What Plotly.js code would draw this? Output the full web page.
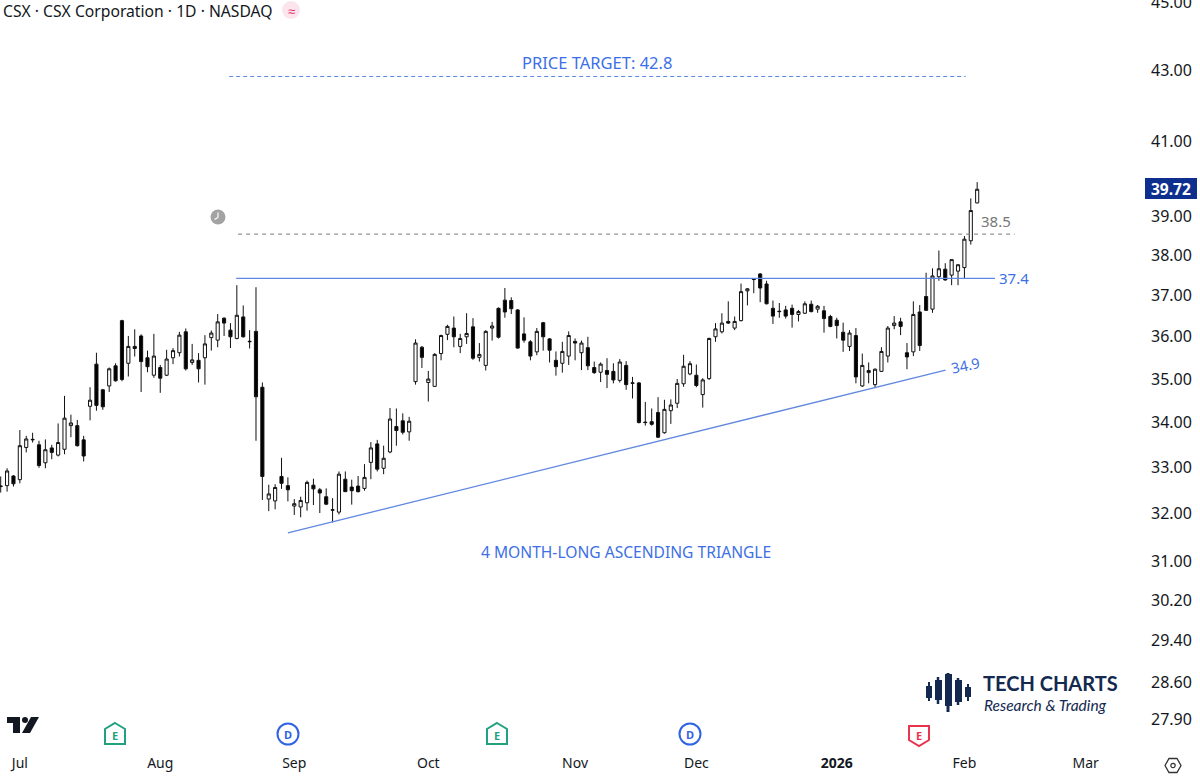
<!DOCTYPE html>
<html><head><meta charset="utf-8">
<script src="https://cdn.plot.ly/plotly-3.0.1.min.js"></script>
<style>html,body{margin:0;padding:0;background:#fff}</style></head>
<body><div id="chart" style="width:1200px;height:778px"></div>
<script>
const openPrices = [
32.58,32.60,32.81,32.73,33.44,33.61,33.50,33.10,33.43,33.27,33.40,33.93,33.93,33.61,34.37,35.35,34.75,34.84,35.31,36.39,35.37,35.77,36.02,35.50,35.09,35.27,35.09,35.50,35.62,36.12,35.39,35.44,35.50,35.98,35.92,36.45,36.16,35.96,36.48,35.88,36.13,34.81,32.31,32.27,32.80,32.60,32.16,
32.14,32.23,32.61,32.51,32.36,32.07,32.03,32.74,32.57,32.59,32.54,33.11,33.52,32.98,33.34,33.91,34.04,33.79,34.94,35.75,34.92,34.83,35.60,36.06,36.21,35.77,36.00,36.24,35.51,35.32,36.21,36.69,36.89,36.88,36.65,36.07,35.88,35.64,36.34,35.95,35.44,35.37,35.54,35.89,
35.62,35.74,35.27,35.16,35.20,35.18,34.97,35.32,34.90,34.91,34.01,34.02,34.23,33.77,34.27,34.44,34.89,35.12,35.09,34.64,35.01,36.00,36.12,36.37,36.21,36.39,37.12,37.40,37.54,37.29,36.69,36.62,36.65,36.69,36.54,
36.57,36.79,36.67,36.63,36.49,36.40,36.11,35.77,36.03,34.84,35.15,34.87,35.18,35.54,36.27,36.36,35.62,35.64,36.60,36.98,36.67,37.47,37.66,37.51,37.61,37.70,38.38,39.36];
const highPrices = [
32.80,32.98,32.83,33.83,33.70,33.77,33.59,33.62,33.50,33.98,34.61,34.18,34.06,33.70,34.81,35.62,34.77,35.27,35.37,36.41,36.02,36.18,36.06,35.67,36.07,35.33,35.69,35.73,36.12,36.20,35.83,35.61,36.04,36.15,36.55,36.47,36.33,37.26,36.76,36.16,37.21,34.92,32.62,32.63,33.21,32.78,32.31,
32.36,32.71,32.75,32.55,32.54,32.33,32.91,32.91,32.73,32.81,33.07,33.56,33.61,33.48,34.33,34.32,34.21,34.13,35.94,35.78,35.19,35.61,36.05,36.29,36.49,36.07,36.57,36.45,35.85,36.16,36.36,36.71,37.19,36.96,36.67,36.47,35.92,36.21,36.36,35.97,35.65,35.88,36.13,35.96,
35.91,36.00,35.41,35.39,35.49,35.37,35.47,35.42,35.05,34.93,34.47,34.32,34.58,34.52,34.53,35.00,35.57,35.42,35.34,35.02,35.98,36.33,36.57,36.86,36.49,37.30,37.19,37.42,37.56,37.37,36.88,36.82,36.75,36.78,36.65,
36.86,36.88,36.77,36.75,36.53,36.46,36.34,36.16,36.21,35.60,35.39,35.25,35.75,36.26,36.50,36.46,35.85,36.86,36.77,37.57,37.68,38.13,37.81,37.91,37.79,38.50,39.48,39.91];
const lowPrices = [
32.45,32.47,32.58,32.65,33.33,33.55,32.99,32.98,33.18,33.24,33.29,33.67,33.46,33.13,34.05,34.27,34.29,34.70,34.94,34.95,35.06,35.53,34.70,35.16,35.03,34.68,35.07,35.35,35.53,35.20,35.33,34.92,34.87,35.67,35.75,36.02,35.73,35.94,35.98,35.72,33.59,32.29,32.05,32.09,32.53,32.26,31.97,
31.92,32.06,32.18,32.01,32.18,31.81,31.98,32.46,32.19,32.45,32.49,32.74,32.91,32.85,33.31,33.48,33.73,33.59,34.87,35.26,34.48,34.82,35.44,35.92,35.75,35.61,35.83,35.45,35.41,35.20,35.91,35.96,36.46,36.55,35.72,35.86,35.44,35.56,35.67,35.39,35.08,35.15,35.33,35.44,
35.21,35.21,35.12,34.93,34.79,34.90,34.92,34.75,34.55,33.98,33.93,33.93,33.65,33.75,33.97,34.33,34.82,35.09,34.81,34.34,34.98,35.88,36.08,36.31,36.16,36.37,36.76,37.06,36.84,36.79,36.31,36.46,36.44,36.22,36.37,
36.55,36.59,36.58,36.10,36.23,35.96,35.64,35.66,34.90,34.82,34.90,34.79,35.17,35.39,36.18,36.04,35.23,35.54,35.66,36.63,36.58,37.37,37.37,37.26,37.26,37.43,38.28,39.35];
const closePrices = [
32.59,32.92,32.64,33.48,33.63,33.62,33.04,33.39,33.33,33.55,34.10,33.99,33.48,33.25,34.51,34.39,34.36,35.24,34.96,34.99,35.77,35.72,35.41,35.29,35.54,35.02,35.47,35.67,36.04,35.24,35.45,35.24,35.83,36.09,36.36,36.33,36.00,36.52,36.00,35.89,34.59,32.80,32.42,32.56,32.65,32.51,32.21,
32.28,32.67,32.53,32.44,32.20,32.08,32.85,32.47,32.49,32.47,32.78,33.43,32.96,33.20,34.08,33.82,33.78,34.03,35.85,35.51,35.00,35.58,36.03,36.25,36.00,35.96,36.08,35.49,35.58,36.13,36.26,35.99,36.60,36.68,35.73,35.92,35.54,36.13,36.00,35.68,35.29,35.65,36.03,35.85,
35.85,35.31,35.15,35.35,35.11,34.98,35.40,34.87,34.91,34.00,34.00,33.96,33.67,34.30,34.40,34.90,35.30,35.36,34.85,34.98,35.96,36.19,36.33,36.33,36.37,37.10,37.17,37.41,37.19,36.80,36.50,36.61,36.50,36.54,36.61,
36.80,36.61,36.74,36.44,36.25,36.27,35.92,36.09,35.05,35.32,35.20,35.23,35.65,36.21,36.33,36.25,35.52,36.54,35.79,36.64,37.49,37.67,37.39,37.90,37.77,38.42,39.16,39.72];

const monthTicks = [3,25,46,67,90,109,131,151,170];
const monthLabels = ['Jul','Aug','Sep','Oct','Nov','Dec','<b>2026</b>','Feb','Mar'];
const priceTicks = [45,43,41,39,38,37,36,35,34,33,32,31,30.2,29.4,28.6,27.9];
const priceLabels = ['45.00','43.00','41.00','39.00','38.00','37.00','36.00','35.00','34.00','33.00','32.00','31.00','30.20','29.40','28.60','27.90'];

const targetX = [35.8,151.2],   targetY = [42.82,42.82];
const breakoutX = [37.2,158.9], breakoutY = [38.55,38.55];
const resistX = [36.9,155.8],   resistY = [37.43,37.43];
const supportX = [45,148.05],   supportY = [31.59,35.21];
const lastPrice = 39.72;

const W = 1138, H = 748;
const BLUE = '#3d6fe6', LINE = '#6188e0', NAVY = '#13294f', FONT = '"Noto Sans", sans-serif';
const X = p => (p/W).toFixed(5), Y = p => (1-p/H).toFixed(5);
const poly = pts => 'M' + pts.map(p => X(p[0])+','+Y(p[1])).join('L') + 'Z';
const box = (x0,y0,x1,y1,fill) => ({type:'rect',xref:'paper',yref:'paper',x0:x0/W,x1:x1/W,y0:1-y0/H,y1:1-y1/H,fillcolor:fill,line:{width:0}});
const circ = (cx,cy,r,fill,stroke,w) => ({type:'circle',xref:'paper',yref:'paper',x0:(cx-r)/W,x1:(cx+r)/W,y0:1-(cy-r)/H,y1:1-(cy+r)/H,fillcolor:fill,line:{color:stroke||fill,width:w||0}});
const path = (pts,fill,stroke,w) => ({type:'path',xref:'paper',yref:'paper',path:poly(pts),fillcolor:fill,line:{color:stroke||fill,width:w||0}});
const seg = (x0,y0,x1,y1,c,w) => ({type:'line',xref:'paper',yref:'paper',x0:x0/W,x1:x1/W,y0:1-y0/H,y1:1-y1/H,line:{color:c,width:w}});
const house = (cx,color) => path([[cx,723],[cx+10,729],[cx+10,744],[cx-10,744],[cx-10,729]],'rgba(255,255,255,0)',color,2);
const shield = (cx,color) => path([[cx-10,726],[cx+10,726],[cx+10,740],[cx,746],[cx-10,740]],'rgba(255,255,255,0)',color,2);

const shapes = [
  box(1145,178,1197,199,'#0f2f8f'),
  circ(291,10,9,'#fce4ec'),
  circ(218,217,7.5,'#a3a3a3'),
  seg(218,212.5,218,217.5,'#fff',1.2), seg(218,217.5,214.5,219.5,'#fff',1.2),
  path([[7,717],[20,717],[20,733],[13,733],[13,723],[7,723]],'#131722'),
  circ(25,720,3,'#131722'),
  path([[31,717],[39,717],[30,733],[22,733]],'#131722'),
  house(115,'#22a17f'), house(497,'#22a17f'), shield(919,'#e8344f'),
  circ(288,734,10.5,'rgba(255,255,255,0)','#2f63e4',2),
  circ(690,734,10.5,'rgba(255,255,255,0)','#2f63e4',2),
  path([[1165,765.5],[1169,758.5],[1177,758.5],[1181,765.5],[1177,772.5],[1169,772.5]],'rgba(255,255,255,0)','#333',1.3),
  circ(1173,765.5,2.2,'rgba(255,255,255,0)','#333',1.2),
  seg(929,682,929,701,NAVY,2), box(926,686,932,698,NAVY),
  seg(938,677,938,704,NAVY,2.5), box(935,680,942,700,NAVY),
  seg(948,673,948,712,NAVY,3), box(945,674,952,706,NAVY),
  seg(958,678,958,705,NAVY,2.5), box(955,680,962,702,NAVY),
  seg(968,684,968,701,NAVY,2), box(965,687,971,697,NAVY)
];

const ann = (text,x,y,size,color,extra) => Object.assign({text,x:x/W,y:1-y/H,xref:'paper',yref:'paper',showarrow:false,font:{family:FONT,size,color},xanchor:'center',yanchor:'middle'},extra||{});
const annotations = [
  ann('PRICE TARGET: 42.8',597,62,16.5,BLUE),
  ann('4 MONTH-LONG ASCENDING TRIANGLE',626,552,15.6,BLUE),
  ann('38.5',996,221,15,'#777'),
  ann('37.4',1014,278,15,BLUE),
  ann('34.9',965,365,14.5,BLUE,{textangle:-12}),
  {text:'<b>39.72</b>',x:1171/W,y:Math.log10(lastPrice),xref:'paper',yref:'y',showarrow:false,font:{family:FONT,size:15.5,color:'#fff'},xanchor:'center',yanchor:'middle'},
  ann('≈',291,11,13,'#e91e63'),
  ann('<b>E</b>',115,735,11,'#22a17f'), ann('<b>E</b>',497,735,11,'#22a17f'), ann('<b>E</b>',919,735,11,'#e8344f'),
  ann('<b>D</b>',288,734,11,'#2f63e4'), ann('<b>D</b>',690,734,11,'#2f63e4'),
  ann('<b>TECH CHARTS</b>',981,683,20,NAVY,{xanchor:'left',font:{family:'Lato, sans-serif',size:20,color:NAVY}}),
  ann('<i>Research &amp; Trading</i>',982,704.5,15.5,NAVY,{xanchor:'left',font:{family:'Lato, sans-serif',size:15.5,color:NAVY}})
];

const idx = openPrices.map((_,i)=>i);
const lineTrace = (x,y,color,width,dash)=>({type:'scatter',mode:'lines',x,y,line:{color,width,dash},hoverinfo:'skip',showlegend:false});
const traces = [
  lineTrace(targetX,targetY,LINE,1.2,'4px,3px'),
  lineTrace(breakoutX,breakoutY,'#777',1,'4px,4px'),
  lineTrace(resistX,resistY,LINE,1.3,'solid'),
  lineTrace(supportX,supportY,LINE,1.3,'solid'),
  {type:'candlestick',x:idx,open:openPrices,high:highPrices,low:lowPrices,close:closePrices,whiskerwidth:0,
   increasing:{line:{color:'#111',width:1},fillcolor:'#fff'},
   decreasing:{line:{color:'#111',width:1},fillcolor:'#000'},showlegend:false}
];

const layout = {
  width:1200,height:778,paper_bgcolor:'#fff',plot_bgcolor:'#fff',showlegend:false,
  margin:{l:0,r:62,t:0,b:30,pad:0},
  title:{text:'CSX · CSX Corporation · 1D · NASDAQ',x:3/1200,xref:'container',xanchor:'left',y:1-11/778,yref:'container',yanchor:'middle',font:{family:FONT,size:15.7,color:'#131722'}},
  xaxis:{type:'linear',range:[-0.11,178.2],tickmode:'array',tickvals:monthTicks,ticktext:monthLabels,showgrid:false,zeroline:false,showline:false,ticks:'',ticklabelstandoff:5,rangeslider:{visible:false},tickfont:{family:FONT,size:14,color:'#131722'},automargin:false},
  yaxis:{type:'log',side:'right',range:[Math.log10(27.37),Math.log10(45.06)],tickmode:'array',tickvals:priceTicks,ticktext:priceLabels,showgrid:false,zeroline:false,showline:false,ticks:'',ticklabelstandoff:12,ticklabeloverflow:'allow',tickfont:{family:FONT,size:16,color:'#131722'},automargin:false},
  shapes,annotations
};
Plotly.newPlot('chart',traces,layout,{displayModeBar:false,staticPlot:true});
</script></body></html>
